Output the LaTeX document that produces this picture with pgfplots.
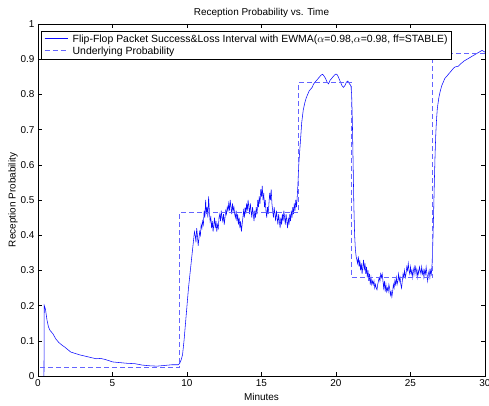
\documentclass[border=0pt]{standalone}
\usepackage{fontspec}
\setmainfont{Liberation Sans}
\usepackage{pgfplots}
\pgfplotsset{compat=1.18}
\definecolor{mainblue}{RGB}{10,10,255}
\definecolor{dashblue}{RGB}{100,100,255}
\newcommand{\solidsample}{\textcolor{mainblue}{\rule[3.2bp]{23bp}{0.6bp}}\hspace{5bp}}
\newcommand{\dashsample}{\textcolor{dashblue}{\rule[3.2bp]{5bp}{0.8bp}\hspace{3bp}\rule[3.2bp]{5bp}{0.8bp}\hspace{3bp}\rule[3.2bp]{5bp}{0.8bp}\hspace{2bp}}\hspace{5bp}}
\begin{document}
\begin{tikzpicture}
\useasboundingbox (-38bp,-30bp) rectangle (451bp,376bp);
\begin{axis}[
  scale only axis, width=447bp, height=352bp,
  at={(0,0)}, anchor=south west,
  xmin=0, xmax=30, ymin=0, ymax=1,
  xtick={0,5,10,15,20,25,30},
  xticklabels={0,5,10,15,20,25,30},
  ytick={0,0.1,0.2,0.3,0.4,0.5,0.6,0.7,0.8,0.9,1},
  yticklabels={0,0.1,0.2,0.3,0.4,0.5,0.6,0.7,0.8,0.9,1},
  tick align=inside, tick pos=both, major tick length=4bp,
  tick style={black, line width=0.4pt},
  ticklabel style={font=\fontsize{10}{12}\selectfont},
  label style={font=\fontsize{10}{12}\selectfont},
  title style={font=\fontsize{10}{12}\selectfont, yshift=-3bp},
  title={Reception Probability vs. Time},
  xlabel={Minutes},
  ylabel={Reception Probability},
  ylabel shift=-4bp,
  legend style={at={(0,1)}, anchor=north west, xshift=3bp, yshift=-7bp,
    font=\fontsize{10.5}{12}\selectfont, inner sep=1.5bp,
    row sep=-1pt, cells={anchor=west}},
  legend cell align=left,
]
\addlegendimage{empty legend}
\addlegendentry{\solidsample Flip-Flop Packet Success\&Loss Interval with EWMA($\alpha$=0.98,$\alpha$=0.98, ff=STABLE)}
\addlegendimage{empty legend}
\addlegendentry{\dashsample Underlying Probability}
\addplot[mainblue, line width=0.55pt, forget plot] coordinates {
(0.4,0) (0.42,0.2) (0.5,0.19) (0.6,0.16) (0.7,0.14) (0.8,0.13) (1.0,0.12) (1.2,0.105)
(1.4,0.095) (1.6,0.088) (1.8,0.082) (2.0,0.075) (2.2,0.068) (2.5,0.064) (2.8,0.06)
(3.0,0.058) (3.3,0.055) (3.6,0.052) (3.9,0.049) (4.2,0.05) (4.5,0.047) (4.8,0.043)
(5.0,0.04) (5.5,0.038) (6.0,0.036) (6.5,0.035) (7.0,0.031) (7.5,0.029) (8.0,0.028)
(8.5,0.03) (9.0,0.032) (9.4,0.032) (9.5,0.035) (9.6,0.045) (9.7,0.06) (9.8,0.1)
(9.9,0.15) (10.0,0.2) (10.1,0.25) (10.2,0.29) (10.3,0.33) (10.4,0.37) (10.5,0.41)
(10.55,0.40) (10.6,0.38) (10.65,0.42) (10.7,0.40) (10.75,0.37) (10.8,0.39) (10.85,0.41)
(10.9,0.40) (10.95,0.43) (11.0,0.42) (11.05,0.44) (11.1,0.43) (11.15,0.47) (11.2,0.45)
(11.25,0.50) (11.3,0.46) (11.35,0.48) (11.4,0.45) (11.45,0.51) (11.5,0.47) (11.55,0.44)
(11.6,0.45) (11.65,0.42) (11.7,0.44) (11.75,0.41) (11.8,0.43) (11.85,0.45) (11.9,0.42)
(11.95,0.44) (12.0,0.41) (12.05,0.43) (12.1,0.42) (12.15,0.45) (12.2,0.46) (12.25,0.44)
(12.3,0.47) (12.35,0.45) (12.4,0.44) (12.45,0.46) (12.5,0.43) (12.55,0.45) (12.6,0.47)
(12.65,0.46) (12.7,0.48) (12.75,0.47) (12.8,0.49) (12.85,0.47) (12.9,0.50) (12.95,0.48)
(13.0,0.46) (13.05,0.49) (13.1,0.47) (13.15,0.48) (13.2,0.46) (13.25,0.45) (13.3,0.47)
(13.35,0.44) (13.4,0.46) (13.45,0.43) (13.5,0.45) (13.55,0.42) (13.6,0.44) (13.65,0.41)
(13.7,0.43) (13.75,0.45) (13.8,0.47) (13.85,0.45) (13.9,0.48) (13.95,0.46) (14.0,0.49)
(14.05,0.47) (14.1,0.50) (14.15,0.48) (14.2,0.46) (14.25,0.49) (14.3,0.47) (14.35,0.45)
(14.4,0.48) (14.45,0.46) (14.5,0.44) (14.55,0.47) (14.6,0.45) (14.65,0.48) (14.7,0.46)
(14.75,0.50) (14.8,0.48) (14.85,0.51) (14.9,0.49) (14.95,0.53) (15.0,0.51) (15.05,0.54)
(15.1,0.50) (15.15,0.52) (15.2,0.48) (15.25,0.50) (15.3,0.47) (15.35,0.45) (15.4,0.48)
(15.45,0.46) (15.5,0.49) (15.55,0.52) (15.6,0.50) (15.65,0.53) (15.7,0.49) (15.75,0.47)
(15.8,0.45) (15.85,0.48) (15.9,0.46) (15.95,0.44) (16.0,0.47) (16.05,0.45) (16.1,0.43)
(16.15,0.46) (16.2,0.44) (16.25,0.42) (16.3,0.45) (16.35,0.43) (16.4,0.46) (16.45,0.44)
(16.5,0.47) (16.55,0.45) (16.6,0.43) (16.65,0.46) (16.7,0.44) (16.75,0.42) (16.8,0.45)
(16.85,0.43) (16.9,0.46) (16.95,0.44) (17.0,0.47) (17.05,0.45) (17.1,0.48) (17.15,0.46)
(17.2,0.49) (17.25,0.47) (17.3,0.50) (17.35,0.48) (17.4,0.51) (17.45,0.55) (17.5,0.60)
(17.6,0.66) (17.7,0.72) (17.8,0.755) (17.9,0.775) (18.0,0.79) (18.1,0.80) (18.2,0.81)
(18.3,0.815) (18.4,0.82) (18.5,0.83) (18.6,0.835) (18.7,0.84) (18.8,0.845) (18.9,0.85)
(19.0,0.855) (19.1,0.857) (19.2,0.852) (19.3,0.845) (19.4,0.835) (19.5,0.83) (19.6,0.84)
(19.7,0.845) (19.8,0.85) (19.9,0.855) (20.0,0.858) (20.1,0.855) (20.2,0.845) (20.3,0.835)
(20.4,0.825) (20.5,0.82) (20.6,0.825) (20.7,0.835) (20.8,0.838) (20.9,0.83) (21.0,0.825)
(21.05,0.80) (21.1,0.72) (21.15,0.60) (21.2,0.48) (21.25,0.40) (21.3,0.36) (21.35,0.34)
(21.4,0.33) (21.45,0.32) (21.5,0.34) (21.55,0.31) (21.6,0.33) (21.65,0.30) (21.7,0.32)
(21.75,0.29) (21.8,0.31) (21.85,0.33) (21.9,0.30) (21.95,0.32) (22.0,0.29) (22.05,0.31)
(22.1,0.28) (22.15,0.30) (22.2,0.27) (22.25,0.29) (22.3,0.26) (22.35,0.28) (22.4,0.26)
(22.45,0.27) (22.5,0.26) (22.55,0.27) (22.6,0.25) (22.65,0.26) (22.7,0.25) (22.75,0.245)
(22.8,0.26) (22.85,0.27) (22.9,0.28) (22.95,0.27) (23.0,0.29) (23.05,0.28) (23.1,0.29)
(23.15,0.27) (23.2,0.25) (23.25,0.27) (23.3,0.24) (23.35,0.26) (23.4,0.24) (23.45,0.25)
(23.5,0.24) (23.55,0.26) (23.6,0.25) (23.65,0.23) (23.7,0.24) (23.75,0.225) (23.8,0.24)
(23.85,0.26) (23.9,0.25) (23.95,0.27) (24.0,0.26) (24.05,0.28) (24.1,0.26) (24.15,0.27)
(24.2,0.29) (24.25,0.27) (24.3,0.28) (24.35,0.26) (24.4,0.25) (24.45,0.27) (24.5,0.29)
(24.55,0.28) (24.6,0.30) (24.65,0.28) (24.7,0.29) (24.75,0.31) (24.8,0.30) (24.85,0.32)
(24.9,0.30) (24.95,0.29) (25.0,0.31) (25.05,0.29) (25.1,0.30) (25.15,0.28) (25.2,0.30)
(25.25,0.31) (25.3,0.29) (25.35,0.31) (25.4,0.30) (25.45,0.28) (25.5,0.30) (25.55,0.29)
(25.6,0.31) (25.65,0.30) (25.7,0.29) (25.75,0.31) (25.8,0.29) (25.85,0.30) (25.9,0.28)
(25.95,0.30) (26.0,0.29) (26.05,0.31) (26.1,0.29) (26.15,0.27) (26.2,0.29) (26.25,0.30)
(26.3,0.28) (26.35,0.30) (26.4,0.29) (26.45,0.32) (26.5,0.38) (26.55,0.46) (26.6,0.55)
(26.65,0.63) (26.7,0.69) (26.75,0.73) (26.8,0.76) (26.9,0.79) (27.0,0.81) (27.1,0.825)
(27.2,0.835) (27.3,0.845) (27.5,0.855) (27.7,0.865) (27.9,0.875) (28.0,0.878) (28.2,0.88)
(28.4,0.888) (28.6,0.895) (28.8,0.90) (29.0,0.905) (29.2,0.91) (29.4,0.915) (29.6,0.92)
(29.8,0.925) (30.0,0.92)
};
\addplot[dashblue, line width=0.9pt, dash pattern=on 5bp off 3bp, forget plot] coordinates {
(0.15,0.025) (9.5,0.025) (9.5,0.465) (17.5,0.465) (17.5,0.835) (21.05,0.835)
(21.05,0.28) (26.5,0.28) (26.5,0.915) (30,0.915)
};
\end{axis}
\end{tikzpicture}
\end{document}
